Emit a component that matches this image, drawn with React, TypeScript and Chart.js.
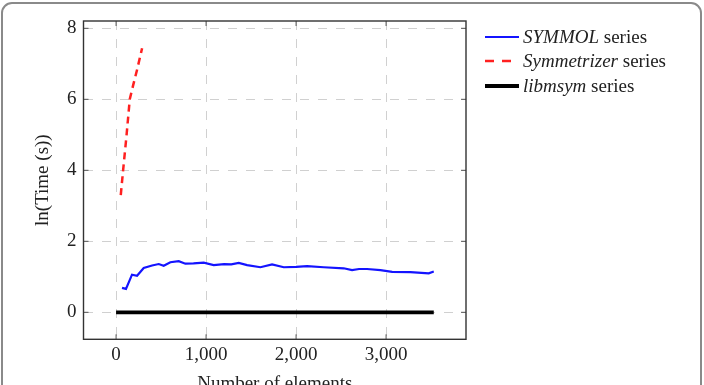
import React, { useEffect, useRef } from "react";
import { Chart, registerables } from "chart.js";

Chart.register(...registerables);

// ---- data ----
const symmolX = [66, 110, 177, 233, 307, 400, 474, 529, 603, 696, 770, 860, 974, 1085, 1200, 1280, 1363, 1456, 1604, 1733, 1863, 2000, 2122, 2307, 2529, 2622, 2700, 2789, 2937, 3067, 3270, 3474, 3530];
const symmolY = [0.69, 0.66, 1.06, 1.03, 1.25, 1.32, 1.36, 1.31, 1.41, 1.44, 1.37, 1.38, 1.4, 1.33, 1.36, 1.35, 1.39, 1.33, 1.27, 1.35, 1.27, 1.28, 1.3, 1.27, 1.24, 1.19, 1.22, 1.22, 1.19, 1.14, 1.13, 1.1, 1.15];
const symmetrizerX = [52, 78, 115, 152, 190, 235, 289];
const symmetrizerY = [3.3, 4.0, 4.95, 6.0, 6.4, 6.85, 7.44];
const libmsymX = [0, 3530];
const libmsymY = [0, 0];

const xTicks = [0, 1000, 2000, 3000];
const yTicks = [0, 2, 4, 6, 8];
const xMin = -362;
const xMax = 3888;
const yMin = -0.76;
const yMax = 8.206;

const xTitle = "Number of elements";
const yTitle = "ln(Time (s))";

const legendNames = ["SYMMOL", "Symmetrizer", "libmsym"];
const legendSuffix = " series";

const FONT = "'Liberation Serif', 'Times New Roman', serif";

const toPoints = (xs: number[], ys: number[]) => xs.map((x, i) => ({ x, y: ys[i] }));

const boxPlugin = {
  id: "outerBox",
  beforeDraw(chart: any) {
    const { ctx } = chart;
    ctx.save();
    ctx.strokeStyle = "#8a8a8a";
    ctx.lineWidth = 2;
    const x = 2, y = 3, w = 699, h = 430, r = 10;
    ctx.beginPath();
    ctx.moveTo(x + r, y);
    ctx.lineTo(x + w - r, y);
    ctx.arcTo(x + w, y, x + w, y + r, r);
    ctx.lineTo(x + w, y + h);
    ctx.moveTo(x, y + h);
    ctx.lineTo(x, y + r);
    ctx.arcTo(x, y, x + r, y, r);
    ctx.stroke();
    ctx.restore();
  },
};

const framePlugin = {
  id: "frame",
  afterDatasetsDraw(chart: any) {
    const { ctx, chartArea } = chart;
    const { left, right, top, bottom } = chartArea;
    const xs = chart.scales.x;
    const ys = chart.scales.y;
    ctx.save();
    ctx.strokeStyle = "#555";
    ctx.lineWidth = 1;
    const tl = 5;
    ctx.beginPath();
    for (const v of yTicks) {
      const p = ys.getPixelForValue(v);
      ctx.moveTo(left, p);
      ctx.lineTo(left + tl, p);
      ctx.moveTo(right, p);
      ctx.lineTo(right - tl, p);
    }
    for (const v of xTicks) {
      const p = xs.getPixelForValue(v);
      ctx.moveTo(p, bottom);
      ctx.lineTo(p, bottom - tl);
      ctx.moveTo(p, top);
      ctx.lineTo(p, top + tl);
    }
    ctx.stroke();
    ctx.strokeStyle = "#333";
    ctx.lineWidth = 1.4;
    ctx.strokeRect(left, top, right - left, bottom - top);
    ctx.restore();
  },
};

export default function App() {
  const ref = useRef<HTMLCanvasElement | null>(null);

  useEffect(() => {
    if (!ref.current) return;
    const chart = new Chart(ref.current, {
      type: "line",
      data: {
        datasets: [
          {
            label: "libmsym series",
            data: toPoints(libmsymX, libmsymY),
            borderColor: "#000000",
            borderWidth: 3.8,
            pointRadius: 0,
            tension: 0,
          },
          {
            label: "SYMMOL series",
            data: toPoints(symmolX, symmolY),
            borderColor: "#1414ff",
            borderWidth: 2.2,
            pointRadius: 0,
            tension: 0,
          },
          {
            label: "Symmetrizer series",
            data: toPoints(symmetrizerX, symmetrizerY),
            borderColor: "#ff2020",
            borderWidth: 2.5,
            borderDash: [7, 5],
            pointRadius: 0,
            tension: 0,
          },
        ],
      },
      options: {
        responsive: false,
        animation: false,
        devicePixelRatio: 1,
        layout: { padding: { left: 0, right: 238, top: 21, bottom: 0 } },
        plugins: { legend: { display: false }, tooltip: { enabled: false } },
        scales: {
          x: {
            type: "linear",
            min: xMin,
            max: xMax,
            afterBuildTicks: (s: any) => {
              s.ticks = xTicks.map((v) => ({ value: v }));
            },
            afterFit: (s: any) => {
              s.height = 400 - 339.3;
            },
            grid: { color: "#d0d0d0", lineWidth: 1, drawTicks: false },
            border: { display: false, dash: [9, 9] },
            ticks: {
              padding: 4,
              color: "#222",
              font: { family: FONT, size: 19 },
              maxRotation: 0,
              callback: (v: any) => Number(v).toLocaleString("en-US"),
            },
            title: {
              display: true,
              text: xTitle,
              color: "#222",
              font: { family: FONT, size: 19 },
              padding: { top: 0, bottom: 5 },
            },
          },
          y: {
            type: "linear",
            min: yMin,
            max: yMax,
            afterBuildTicks: (s: any) => {
              s.ticks = yTicks.map((v) => ({ value: v }));
            },
            afterFit: (s: any) => {
              s.width = 83.5;
            },
            grid: { color: "#d0d0d0", lineWidth: 1, drawTicks: false },
            border: { display: false, dash: [9, 9] },
            ticks: {
              padding: 7,
              color: "#222",
              font: { family: FONT, size: 19 },
              callback: (v: any) => String(v),
            },
            title: {
              display: true,
              text: yTitle,
              color: "#222",
              font: { family: FONT, size: 19 },
              padding: { top: 32, bottom: 0 },
            },
          },
        },
      },
      plugins: [boxPlugin, framePlugin],
    } as any);
    return () => chart.destroy();
  }, []);

  const rowY = [36.7, 61.2, 85.7];
  const samples = [
    { color: "#1414ff", width: 2, dash: "" },
    { color: "#ff2020", width: 2.5, dash: "9 8" },
    { color: "#000", width: 4, dash: "" },
  ];

  return (
    <div
      style={{
        position: "relative",
        width: 704,
        height: 385,
        overflow: "hidden",
        background: "#fff",
      }}
    >
      <style>{`html,body{margin:0;padding:0;overflow:hidden;background:#fff}`}</style>
      <canvas
        ref={ref}
        width={704}
        height={400}
        style={{ position: "absolute", left: 0, top: 0, width: 704, height: 400 }}
      />
      {legendNames.map((name, i) => (
        <div
          key={name}
          style={{
            position: "absolute",
            left: 485,
            top: rowY[i] - 12,
            height: 24,
            display: "flex",
            alignItems: "center",
            fontFamily: FONT,
            fontSize: 19,
            color: "#222",
            whiteSpace: "nowrap",
          }}
        >
          <svg width={34} height={10} style={{ marginRight: 4 }}>
            <line
              x1={0}
              y1={5}
              x2={34}
              y2={5}
              stroke={samples[i].color}
              strokeWidth={samples[i].width}
              strokeDasharray={samples[i].dash || undefined}
            />
          </svg>
          <span>
            <i>{name}</i>
            {legendSuffix}
          </span>
        </div>
      ))}
    </div>
  );
}
